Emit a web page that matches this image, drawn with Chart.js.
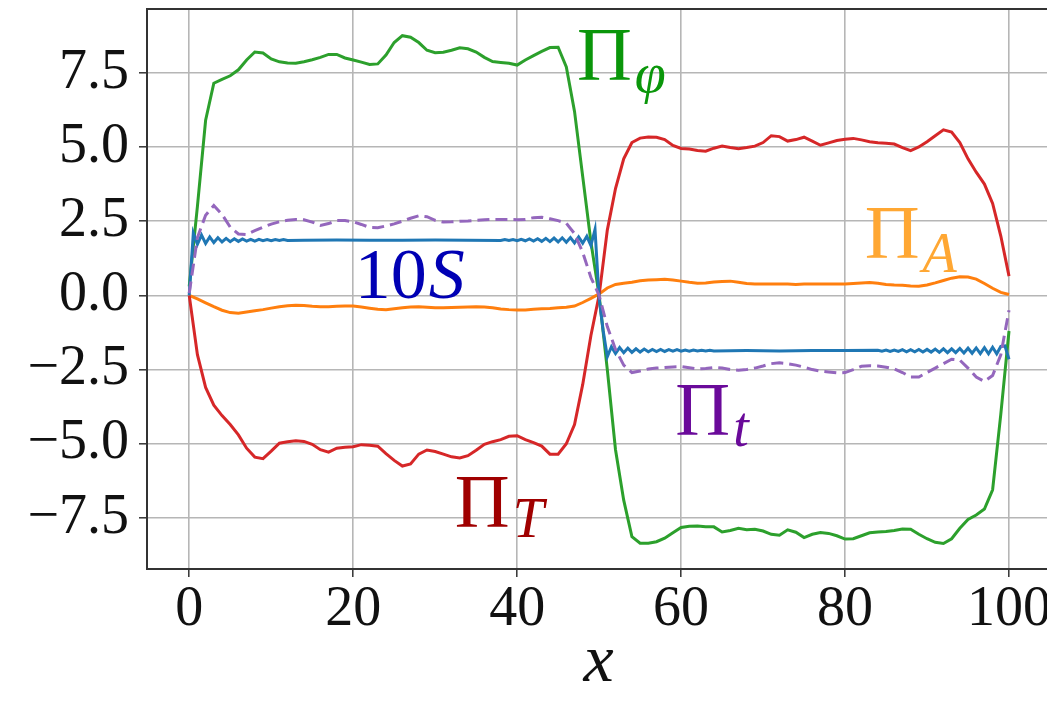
<!DOCTYPE html>
<html lang="en">
<head>
<meta charset="UTF-8">
<title>Pi terms along x</title>
<script src="https://cdn.jsdelivr.net/npm/chart.js"></script>
<style>
  html, body { margin: 0; padding: 0; background: #fff; overflow: hidden; }
  #wrap { width: 1052px; height: 706px; }
</style>
</head>
<body>
<div id="wrap"><canvas id="chart" width="1052" height="706"></canvas></div>
<script>
// sample positions along x (0..100, step 1) for the smooth curves
const xs = Array.from({ length: 101 }, (_, i) => i);

// Pi_phi (green)
const piPhi = [
  0.3, 3.0, 5.9, 7.15, 7.28, 7.4, 7.6, 7.93, 8.2, 8.17,
  7.97, 7.87, 7.83, 7.82, 7.87, 7.94, 8.02, 8.12, 8.12, 8.0,
  7.93, 7.86, 7.78, 7.8, 8.1, 8.52, 8.75, 8.7, 8.52, 8.26,
  8.18, 8.19, 8.26, 8.34, 8.31, 8.2, 8.02, 7.88, 7.85, 7.82,
  7.76, 7.93, 8.08, 8.22, 8.35, 8.36, 7.7, 6.2, 4.0, 1.8,
  0, -2.5, -5.2, -6.9, -8.13, -8.35, -8.35, -8.3, -8.18, -8.0,
  -7.82, -7.78, -7.77, -7.8, -7.8, -7.97, -7.92, -7.85, -7.9, -7.88,
  -7.94, -8.05, -8.08, -7.9, -7.98, -8.16, -8.05, -7.99, -8.02, -8.1,
  -8.21, -8.2, -8.1, -8.0, -7.97, -7.96, -7.92, -7.87, -7.88, -8.05,
  -8.2, -8.32, -8.36, -8.2, -7.85, -7.55, -7.4, -7.2, -6.55, -4.0,
  -1.2
];

// Pi_T (red)
const piT = [
  0, -2.0, -3.1, -3.7, -4.05, -4.35, -4.7, -5.15, -5.45, -5.5,
  -5.25, -4.98, -4.93, -4.9, -4.92, -5.02, -5.2, -5.28, -5.15, -5.12,
  -5.1, -5.03, -5.05, -5.08, -5.33, -5.56, -5.75, -5.68, -5.35, -5.21,
  -5.26, -5.35, -5.44, -5.48, -5.4, -5.22, -5.02, -4.93, -4.86, -4.75,
  -4.73, -4.86, -4.96, -5.08, -5.35, -5.35, -5.0, -4.35, -3.0, -1.35,
  0, 2.2, 3.6, 4.6, 5.15, 5.3, 5.34, 5.33, 5.25, 5.05,
  4.95, 4.93, 4.88, 4.86, 4.96, 5.03, 4.98, 4.94, 4.98, 5.03,
  5.15, 5.38, 5.35, 5.2, 5.25, 5.33, 5.2, 5.06, 5.14, 5.22,
  5.26, 5.29, 5.24, 5.18, 5.14, 5.13, 5.1, 4.98, 4.88, 5.0,
  5.18, 5.38, 5.58, 5.5, 5.15, 4.6, 4.15, 3.75, 3.1, 2.0,
  0.65
];

// Pi_A (orange)
const piA = [
  0, -0.12, -0.25, -0.38, -0.5, -0.58, -0.6, -0.56, -0.52, -0.48,
  -0.43, -0.38, -0.35, -0.33, -0.34, -0.37, -0.38, -0.38, -0.37, -0.36,
  -0.36, -0.39, -0.43, -0.47, -0.48, -0.45, -0.42, -0.39, -0.38, -0.4,
  -0.42, -0.42, -0.41, -0.4, -0.39, -0.38, -0.39, -0.42, -0.46, -0.48,
  -0.49, -0.49, -0.47, -0.45, -0.44, -0.42, -0.4, -0.36, -0.24, -0.1,
  0.05, 0.25, 0.37, 0.41, 0.44, 0.49, 0.52, 0.53, 0.54, 0.52,
  0.48, 0.44, 0.41, 0.42, 0.45, 0.47, 0.48, 0.44, 0.4, 0.38,
  0.38, 0.38, 0.38, 0.38, 0.37, 0.38, 0.38, 0.38, 0.38, 0.38,
  0.38, 0.4, 0.42, 0.43, 0.41, 0.37, 0.35, 0.34, 0.32, 0.31,
  0.35, 0.42, 0.5, 0.58, 0.63, 0.62, 0.55, 0.4, 0.24, 0.1,
  0.03
];

// Pi_t (purple, dashed)
const piSmallT = [
  0.07, 1.95, 2.7, 3.03, 2.73, 2.3, 2.07, 2.05, 2.18, 2.3,
  2.4, 2.48, 2.53, 2.56, 2.55, 2.47, 2.36, 2.42, 2.52, 2.52,
  2.48, 2.39, 2.29, 2.28, 2.34, 2.41, 2.5, 2.6, 2.68, 2.65,
  2.53, 2.47, 2.48, 2.5, 2.51, 2.53, 2.55, 2.56, 2.56, 2.56,
  2.55, 2.56, 2.62, 2.63, 2.58, 2.52, 2.43, 2.08, 1.45, 0.6,
  0, -1.05, -1.82, -2.35, -2.6, -2.55, -2.48, -2.45, -2.43, -2.41,
  -2.4, -2.44, -2.48, -2.46, -2.43, -2.45, -2.5, -2.52, -2.5, -2.45,
  -2.38, -2.3, -2.27, -2.3, -2.35, -2.42, -2.5, -2.55, -2.58, -2.61,
  -2.6, -2.5, -2.39, -2.37, -2.38, -2.42, -2.48, -2.6, -2.75, -2.75,
  -2.6, -2.45, -2.3, -2.15, -2.18, -2.45, -2.75, -2.9, -2.7, -2.0,
  -0.5
];

// 10S (blue) sampled finer near the edges where it wiggles
const sX = [
  0, 0.5, 1, 1.5, 2, 2.5, 3, 3.5, 4, 4.5, 5, 5.5, 6, 6.5, 7, 7.5, 8, 8.5, 9, 9.5, 10, 10.5, 11, 11.5, 12,
  14, 18, 22, 26, 30, 34,
  38, 38.5, 39, 39.5, 40, 40.5, 41, 41.5, 42, 42.5, 43, 43.5, 44, 44.5, 45, 45.5, 46, 46.5, 47, 47.5, 48, 48.5, 49, 49.5,
  50, 50.5, 51,
  51.5, 52, 52.5, 53, 53.5, 54, 54.5, 55, 55.5, 56, 56.5, 57, 57.5, 58, 58.5, 59, 59.5, 60, 60.5, 61, 61.5, 62, 62.5, 63, 63.5, 64,
  68, 72, 76, 80,
  84, 84.5, 85, 85.5, 86, 86.5, 87, 87.5, 88, 88.5, 89, 89.5, 90, 90.5, 91, 91.5, 92, 92.5, 93, 93.5, 94, 94.5, 95, 95.5,
  96, 96.5, 97, 97.5, 98, 98.5, 99, 99.5, 100
];
const tenS = [
  0, 2.1, 1.72, 2.03, 1.75, 1.97, 1.78, 1.94, 1.8, 1.92, 1.81, 1.91, 1.82, 1.9, 1.83, 1.89, 1.83, 1.89, 1.84, 1.88, 1.84, 1.88, 1.85, 1.88, 1.85,
  1.86, 1.87, 1.86, 1.86, 1.87, 1.86,
  1.85, 1.88, 1.85, 1.88, 1.84, 1.89, 1.84, 1.9, 1.83, 1.91, 1.82, 1.92, 1.81, 1.93, 1.8, 1.94, 1.79, 1.95, 1.77, 1.97, 1.76, 1.99, 1.68, 2.22,
  -0.1, -1.2, -2.07,
  -1.73, -1.96, -1.76, -1.93, -1.78, -1.92, -1.8, -1.91, -1.81, -1.9, -1.82, -1.89, -1.82, -1.89, -1.83, -1.88, -1.83, -1.88, -1.84, -1.88, -1.84, -1.87, -1.85, -1.87, -1.85, -1.87,
  -1.86, -1.87, -1.86, -1.86,
  -1.85, -1.88, -1.84, -1.89, -1.84, -1.89, -1.83, -1.9, -1.83, -1.9, -1.82, -1.91, -1.82, -1.91, -1.81, -1.92, -1.8, -1.93, -1.8, -1.93, -1.79, -1.94, -1.78, -1.95,
  -1.77, -1.96, -1.76, -1.97, -1.75, -1.97, -1.72, -1.7, -2.15
];

const xTicks = [0, 20, 40, 60, 80, 100];
const yTicks = [-7.5, -5.0, -2.5, 0.0, 2.5, 5.0, 7.5];

// curve labels: [main, subscript, x, y, colour, subscript drop in px]
const curveLabels = [
  ['\u03A0', '\u03C6', 47.3, 7.25, '#0a960a', 12],
  ['10', 'S', 20.2, -0.09, '#0000b4', 0],
  ['\u03A0', 'A', 82.4, 1.26, '#ffa733', 14],
  ['\u03A0', 't', 59.3, -4.71, '#6a0a9a', 11],
  ['\u03A0', 'T', 32.4, -7.8, '#a00000', 10]
];

const pts = (xv, yv) => yv.map((v, i) => ({ x: xv[i], y: v }));
const SERIF = '"Liberation Serif", "Times New Roman", serif';

// top frame line + the text labels on the curves
const decorations = {
  id: 'decorations',
  afterDatasetsDraw(chart) {
    const { ctx, chartArea, scales } = chart;
    ctx.save();
    ctx.strokeStyle = '#333';
    ctx.lineWidth = 2;
    ctx.beginPath();
    ctx.moveTo(chartArea.left, chartArea.top);
    ctx.lineTo(chartArea.right, chartArea.top);
    ctx.stroke();

    ctx.textBaseline = 'alphabetic';
    ctx.textAlign = 'left';
    curveLabels.forEach(([main, sub, x, y, col, drop]) => {
      const px = scales.x.getPixelForValue(x);
      const py = scales.y.getPixelForValue(y);
      ctx.fillStyle = col;
      if (main === '10') {
        ctx.font = '72px ' + SERIF;
        ctx.fillText(main, px, py);
        const w = ctx.measureText(main).width;
        ctx.font = 'italic 72px ' + SERIF;
        ctx.fillText(sub, px + w + 2, py);
      } else {
        ctx.font = '76px ' + SERIF;
        ctx.fillText(main, px, py);
        const w = ctx.measureText(main).width;
        ctx.font = 'italic 56px ' + SERIF;
        ctx.fillText(sub, px + w + 3, py + drop);
      }
    });
    ctx.restore();
  }
};

const ctx = document.getElementById('chart').getContext('2d');
new Chart(ctx, {
  type: 'line',
  data: {
    datasets: [
      { label: 'Pi_A', data: pts(xs, piA), borderColor: '#ff7f0e', borderWidth: 3, order: 4 },
      { label: 'Pi_T', data: pts(xs, piT), borderColor: '#d62728', borderWidth: 3, order: 3 },
      { label: 'Pi_phi', data: pts(xs, piPhi), borderColor: '#2ca02c', borderWidth: 3, order: 2 },
      { label: '10S', data: pts(sX, tenS), borderColor: '#1f77b4', borderWidth: 3, order: 1 },
      { label: 'Pi_t', data: pts(xs, piSmallT), borderColor: '#9467bd', borderWidth: 3, borderDash: [12, 6], order: 0 }
    ]
  },
  options: {
    responsive: false,
    animation: false,
    layout: { padding: { top: 9, right: 2, left: 0, bottom: 0 } },
    elements: { point: { radius: 0 }, line: { tension: 0, fill: false } },
    plugins: { legend: { display: false }, tooltip: { enabled: false } },
    scales: {
      x: {
        type: 'linear',
        min: -5.15,
        max: 105,
        afterBuildTicks: s => { s.ticks = xTicks.map(v => ({ value: v })); },
        afterFit: s => { s.height = 137; s.paddingLeft = 0; s.paddingRight = 0; },
        grid: { color: '#b6b6b6', lineWidth: 1.6, tickColor: '#333', tickLength: 8, tickWidth: 1.5 },
        border: { color: '#333', width: 2 },
        ticks: { font: { family: SERIF, size: 56 }, color: '#111', padding: 0, maxRotation: 0, autoSkip: false },
        title: { display: true, text: 'x', color: '#111', padding: { top: 0, bottom: 2 }, font: { family: SERIF, size: 68, style: 'italic' } }
      },
      y: {
        type: 'linear',
        min: -9.22,
        max: 9.65,
        afterBuildTicks: s => { s.ticks = yTicks.map(v => ({ value: v })); },
        afterFit: s => { s.width = 147; s.paddingTop = 0; s.paddingBottom = 0; },
        grid: { color: '#b6b6b6', lineWidth: 1.6, tickColor: '#333', tickLength: 8, tickWidth: 1.5 },
        border: { color: '#333', width: 2 },
        ticks: {
          font: { family: SERIF, size: 56 }, color: '#111', padding: 10, autoSkip: false,
          callback: v => (v < 0 ? '\u2212' : '') + Math.abs(v).toFixed(1)
        }
      }
    }
  },
  plugins: [decorations]
});
</script>
</body>
</html>
